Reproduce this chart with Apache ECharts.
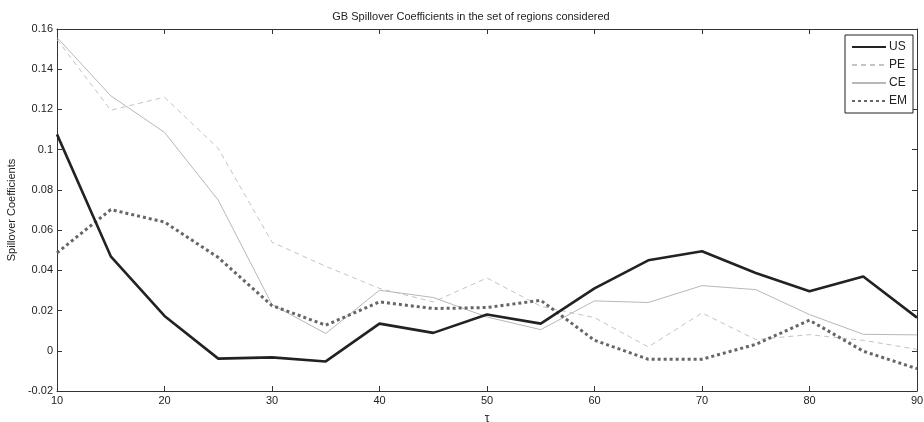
<!DOCTYPE html>
<html>
<head>
<meta charset="utf-8">
<script src="https://cdn.jsdelivr.net/npm/echarts@6/dist/echarts.min.js"></script>
<style>
  html, body { margin: 0; padding: 0; background: #fff; }
  #main { width: 924px; height: 422px; }
</style>
</head>
<body>
<div id="main"></div>
<script>
// tau values
var taus = [10, 15, 20, 25, 30, 35, 40, 45, 50, 55, 60, 65, 70, 75, 80, 85, 90];

// spillover coefficients per region
var usVals = [0.1076, 0.047, 0.0173, -0.0039, -0.0033, -0.0053, 0.0135, 0.0089, 0.018, 0.0135, 0.031, 0.045, 0.0495, 0.0387, 0.0296, 0.0369, 0.0165];
var peVals = [0.1548, 0.1196, 0.1261, 0.1006, 0.054, 0.042, 0.031, 0.0243, 0.0362, 0.0221, 0.0165, 0.0019, 0.0188, 0.0056, 0.008, 0.0052, 0.0007];
var ceVals = [0.1558, 0.1268, 0.1086, 0.0749, 0.023, 0.0086, 0.0301, 0.0265, 0.0168, 0.0105, 0.0248, 0.024, 0.0324, 0.0304, 0.018, 0.0082, 0.0079];
var emVals = [0.0487, 0.0702, 0.064, 0.0464, 0.0225, 0.0127, 0.0243, 0.021, 0.0215, 0.0251, 0.0052, -0.0042, -0.0042, 0.0032, 0.0152, -0.0002, -0.0089];

function pairs(vals) {
  var out = [];
  for (var i = 0; i < taus.length; i++) out.push([taus[i], vals[i]]);
  return out;
}

var font = 'Liberation Sans, Arial, sans-serif';
var axisColor = '#333';

var myChart = echarts.init(document.getElementById('main'));
var option = {
  animation: false,
  backgroundColor: '#fff',
  title: {
    text: 'GB Spillover Coefficients in the set of regions considered',
    left: 466, top: 6, textAlign: 'center',
    textStyle: { fontFamily: font, fontSize: 11, fontWeight: 'normal', color: '#222' }
  },
  grid: { left: 57, right: 7, top: 29, bottom: 31, outerBoundsMode: 'none', containLabel: false },
  legend: {
    orient: 'vertical',
    right: 11, top: 35,
    itemWidth: 34, itemHeight: 10, itemGap: 6,
    padding: [6, 6, 6, 6],
    borderColor: '#222', borderWidth: 1, backgroundColor: '#fff',
    itemStyle: { opacity: 0 },
    textStyle: { fontFamily: font, fontSize: 12, color: '#222', padding: [0, 0, 0, -2] },
    data: ['US', 'PE', 'CE', 'EM']
  },
  xAxis: [{
    type: 'value', min: 10, max: 90, interval: 10,
    name: 'τ', nameLocation: 'middle', nameGap: 22,
    nameTextStyle: { fontFamily: font, fontSize: 12, color: '#222' },
    axisLine: { onZero: false, lineStyle: { color: axisColor, width: 1 } },
    axisTick: { inside: true, length: 5, lineStyle: { color: axisColor } },
    axisLabel: { fontFamily: font, fontSize: 11, color: '#222', margin: 4 },
    splitLine: { show: false }
  }, {
    type: 'value', min: 10, max: 90, interval: 10, position: 'top',
    axisLine: { onZero: false, lineStyle: { color: axisColor, width: 1 } },
    axisTick: { inside: true, length: 5, lineStyle: { color: axisColor } },
    axisLabel: { show: false },
    splitLine: { show: false }
  }],
  yAxis: [{
    type: 'value', min: -0.02, max: 0.16, interval: 0.02,
    name: 'Spillover Coefficients', nameLocation: 'middle', nameGap: 33,
    nameTextStyle: { fontFamily: font, fontSize: 11, color: '#222' },
    axisLine: { show: true, onZero: false, lineStyle: { color: axisColor, width: 1 } },
    axisTick: { show: true, inside: true, length: 5, lineStyle: { color: axisColor } },
    axisLabel: {
      fontFamily: font, fontSize: 11, color: '#222', margin: 4,
      formatter: function (v) { return String(parseFloat(v.toFixed(2))); }
    },
    splitLine: { show: false }
  }, {
    type: 'value', min: -0.02, max: 0.16, interval: 0.02, position: 'right',
    axisLine: { show: true, onZero: false, lineStyle: { color: axisColor, width: 1 } },
    axisTick: { show: true, inside: true, length: 5, lineStyle: { color: axisColor } },
    axisLabel: { show: false },
    splitLine: { show: false }
  }],
  series: [{
    name: 'US', type: 'line', symbol: 'none', z: 5,
    lineStyle: { color: '#222', width: 2.6 },
    itemStyle: { color: '#222' },
    data: pairs(usVals)
  }, {
    name: 'PE', type: 'line', symbol: 'none', z: 2,
    lineStyle: { color: '#c4c4c4', width: 1, type: [5, 4] },
    itemStyle: { color: '#c4c4c4' },
    data: pairs(peVals)
  }, {
    name: 'CE', type: 'line', symbol: 'none', z: 3,
    lineStyle: { color: '#b8b8b8', width: 1 },
    itemStyle: { color: '#b8b8b8' },
    data: pairs(ceVals)
  }, {
    name: 'EM', type: 'line', symbol: 'none', z: 4,
    lineStyle: { color: '#666', width: 3, type: [3, 3] },
    itemStyle: { color: '#666' },
    data: pairs(emVals)
  }]
};
myChart.setOption(option);
window.onresize = myChart.resize;
</script>
</body>
</html>
